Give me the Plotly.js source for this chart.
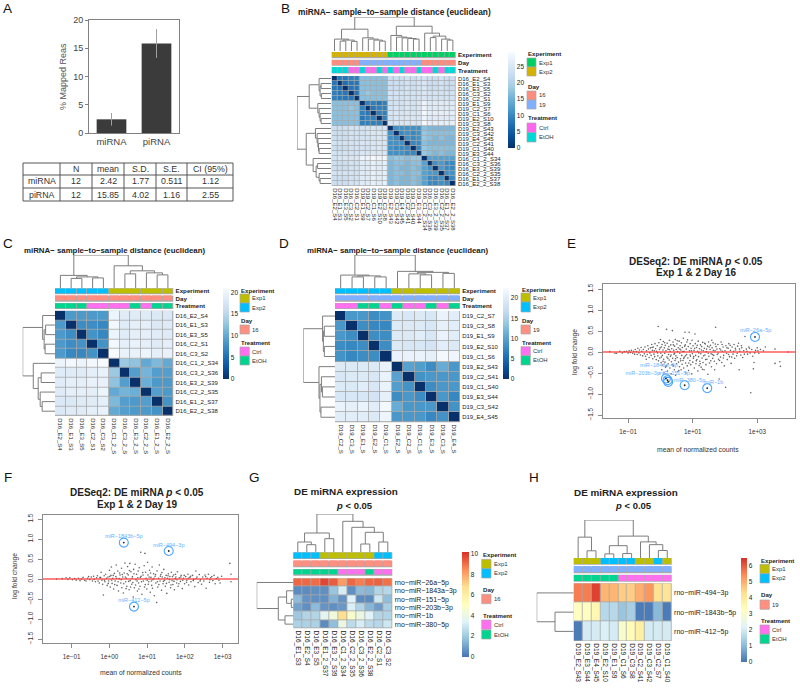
<!DOCTYPE html>
<html><head><meta charset="utf-8">
<script src="https://cdn.plot.ly/plotly-3.0.1.min.js"></script>
<style>html,body{margin:0;padding:0;background:#fff}#chart{width:800px;height:688px}</style>
</head><body><div id="chart"></div>
<script>
/* ---------- DATA ---------- */
const barCats=['miRNA','piRNA'];
const barVals=[2.42,15.85];
const barErr=[1.12,2.55];
const tableHead=['','N','mean','S.D.','S.E.','CI (95%)'];
const tableRow1=['miRNA','12','2.42','1.77','0.511','1.12'];
const tableRow2=['piRNA','12','15.85','4.02','1.16','2.55'];

const bNames=['D16_E2_S4','D16_E1_S3','D16_E3_S5','D16_C3_S2','D16_C2_S1','D19_E1_S9','D19_C2_S7','D19_C1_S6','D19_E2_S10','D19_C3_S8','D19_E2_S43','D19_C3_S42','D19_E4_S45','D19_C2_S41','D19_C1_S40','D19_E3_S44','D16_C1_2_S34','D16_C3_2_S36','D16_E3_2_S39','D16_C2_2_S35','D16_E1_2_S37','D16_E2_2_S38'];
const bUpper=[
[8,8,9,9,17,17,17,17,17,23,23,23,24,23,24,24,23,23,24,23,23],
[7,8,8,17,17,17,17,17,23,23,23,24,23,24,25,23,23,24,23,23],
[8,8,17,17,17,17,17,23,23,23,24,23,24,25,23,23,24,23,23],
[8,17,18,17,17,17,24,24,24,24,24,24,25,24,24,24,24,24],
[17,17,17,17,17,24,24,24,24,24,24,25,24,24,24,24,24],
[9,9,8,9,24,24,24,25,24,25,28,26,26,26,26,26],
[8,9,9,24,25,24,25,24,25,28,26,26,26,26,26],
[9,9,25,25,25,25,25,25,29,27,27,27,27,27],
[9,24,25,25,25,25,25,28,26,26,26,26,26],
[25,25,25,25,25,25,29,27,27,27,27,27],
[11,11,11,11,11,17,16,16,16,16,16],
[10,11,10,11,18,17,17,17,17,17],
[11,10,11,18,17,16,17,16,16],
[10,10,17,16,16,16,16,16],
[10,18,17,17,17,17,17],
[18,17,16,17,16,16],
[13,13,13,13,13],
[11,12,10,10],
[12,10,10],
[11,11],
[10]];
const bTree=[[3,4,9.7],[1,2,10],[-2,-1,11],[0,-3,12],[8,9,10],[7,-5,11],[6,-6,12],[5,-7,13.3],[-4,-8,22],[14,15,12],[13,-10,12.6],[12,-11,13.2],[11,-12,14],[10,-13,15.7],[20,21,11],[19,-15,12],[17,18,13.5],[-17,-16,15],[16,-18,18],[-14,-19,25],[-9,-20,34.3]];

const cNames=['D16_E2_S4','D16_E1_S3','D16_E3_S5','D16_C2_S1','D16_C3_S2','D16_C1_2_S34','D16_C3_2_S36','D16_E3_2_S39','D16_C2_2_S35','D16_E1_2_S37','D16_E2_2_S38'];
const cDist=[
[0,8.5,8.5,8.5,8.5,20,18.5,18.5,18.5,18,18],
[8.5,0,7.5,7.5,7,20.5,18.5,19,19,18,18.5],
[8.5,7.5,0,8,7,20,18.5,19,19,18.5,18.5],
[8.5,7.5,8,0,8,20.5,19,19.5,19,18.5,19],
[8.5,7,7,8,0,21,19.5,19.5,20,19,19.5],
[20,20.5,20,20.5,21,0,13,12.5,10,11.5,10],
[18.5,18.5,18.5,19,19.5,13,0,9,11,9,9],
[18.5,19,19,19.5,19.5,12.5,9,0,10.5,8.5,8.5],
[18.5,19,19,19,20,10,11,10.5,0,9,8.5],
[18,18,18.5,18.5,19,11.5,9,8.5,9,0,8],
[18,18.5,18.5,19,19.5,10,9,8.5,8.5,8,0]];
const cTree=[[1,2,9.5],[3,4,10],[-1,-2,11],[0,-3,12.5],[6,7,14],[9,10,13],[8,-6,15],[-5,-7,17],[5,-8,22],[-4,-9,32.7]];

const dNames=['D19_C2_S7','D19_C3_S8','D19_E1_S9','D19_E2_S10','D19_C1_S6','D19_E2_S43','D19_C2_S41','D19_C1_S40','D19_E3_S44','D19_C3_S42','D19_E4_S45'];
const dDist=[
[0,9,9,8,8.5,19.5,19,19.5,19,21,20],
[9,0,8,7.5,7.5,19.5,19.5,19.5,19,20.5,20],
[9,8,0,8,8,19.5,19.5,20,19,21,20],
[8,7.5,8,0,8,19.5,19,19,18.5,20,19.5],
[8.5,7.5,8,8,0,21,21,21,20.5,22,21.5],
[19.5,19.5,19.5,19.5,21,0,10,9.5,8,11,9],
[19,19.5,19.5,19,21,10,0,8.5,9,9,9],
[19.5,19.5,20,19,21,9.5,8.5,0,8,9,9],
[19,19,19,18.5,20.5,8,9,8,0,9,7.5],
[21,20.5,21,20,22,11,9,9,9,0,8.5],
[20,20,20,19.5,21.5,9,9,9,7.5,8.5,0]];
const dTree=[[1,2,11],[3,4,11],[-1,-2,12],[0,-3,12.8],[7,8,13],[6,-5,14],[9,10,14.5],[-6,-7,15.5],[5,-8,16.5],[-4,-9,32.7]];

const gCols=['D16_E1_S3','D16_E2_S4','D16_E3_S5','D16_E1_2_S37','D16_E3_2_S39','D16_C1_2_S34','D16_C2_2_S35','D16_C3_2_S36','D16_E2_2_S38','D16_C2_S1','D16_C3_S2'];
const gRows=['rno−miR−26a−5p','rno−miR−1843a−3p','rno−miR−151−5p','rno−miR−203b−3p','rno−miR−1b','rno−miR−380−5p'];
const gExpr=[
[9.2,9.2,9.1,9.8,9.4,8.2,9.2,8.8,9.2,9.3,9.0],
[0.5,0.5,0.6,0.6,1.9,3.2,0.6,1.6,1.5,2.4,2.5],
[1.6,0.7,0.6,0.6,1.4,0.7,3.4,0.5,0.5,3.0,1.7],
[1.0,0.6,1.6,0.7,0.6,0.8,3.3,2.4,1.5,0.9,2.2],
[2.0,2.4,2.4,3.6,4.2,6.8,4.7,4.0,3.4,2.4,2.4],
[2.3,2.3,2.3,0.5,1.7,4.0,2.6,3.2,2.6,2.5,3.0]];
const gTreeTop=[[1,2,7.3],[0,-1,10],[3,4,13.3],[-2,-3,19],[7,8,8],[9,10,10],[-5,-6,19.7],[6,-7,24.7],[5,-8,30.7],[-4,-9,38]];
const gTreeLeft=[[2,3,2],[1,-1,6.7],[4,5,8.3],[-2,-3,15],[0,-4,36.6]];

const hCols=['D19_E2_S43','D19_E3_S44','D19_E4_S45','D19_E2_S10','D19_E1_S9','D19_C1_S6','D19_C3_S8','D19_C2_S41','D19_C3_S42','D19_C2_S7','D19_C1_S40'];
const hRows=['rno−miR−494−3p','rno−miR−1843b−5p','rno−miR−412−5p'];
const hExpr=[
[5.6,5.6,6.3,4.9,4.9,4.6,4.6,5.0,5.3,4.3,4.2],
[3.2,3.2,3.5,1.6,1.6,1.2,1.4,0.1,0.1,1.0,0.1],
[0.1,2.0,2.0,2.1,2.0,3.0,3.4,3.8,2.0,2.0,2.0]];
const hTreeTop=[[1,2,7],[0,-1,20.3],[3,4,4],[5,6,4.3],[-3,-4,12],[9,10,7.3],[8,-6,13],[7,-7,15.7],[-5,-8,21.3],[-2,-9,37]];
const hTreeLeft=[[1,2,18.7],[0,-1,37]];

/* MA plots: [log10 mean count, log fold change] */
const e16Pts=[[-1.57,.01],[-1.41,-.03],[-1.36,-.03],[-1.26,.02],[-1.18,-.02],[-1.12,.01],[-1.05,.02],[-1.0,-.02],[-.97,.03],[-.93,-.01],[-.9,.04],[-.86,-.03],[-.83,.02],[-.8,-.05],[-.78,.06],[-.74,.01],[-.72,-.06],[-.7,.09],[-.67,-.02],[-.65,.05],[-.62,-.07],[-.6,.11],[-.58,.02],[-.55,-.09],[-.53,.06],[-.5,-.04],[-.48,.12],[-.46,-.1],[-.43,.03],[-.41,-.06],[-.39,.15],[-.37,.07],[-.35,-.13],[-.33,-.02],[-.31,.1],[-.29,-.08],[-.27,.18],[-.25,.04],[-.24,-.16],[-.22,.12],[-.2,-.05],[-.18,-.11],[-.17,.2],[-.15,.08],[-.13,-.18],[-.12,.02],[-.1,.15],[-.08,-.09],[-.07,.61],[-.06,-.21],[-.05,.22],[-.03,.06],[-.02,-.14],[0,.3],[.01,-.03],[.02,-.25],[.03,.12],[.04,-.42],[.05,.18],[.06,-.08],[.07,-.31],[.08,.05],[.09,.25],[.1,-.17],[.11,-.5],[.12,.1],[.13,-.03],[.14,-.24],[.15,.16],[.16,-.36],[.17,.03],[.19,.54],[.2,-.12],[.21,.21],[.22,-.45],[.23,.07],[.24,-.28],[.25,-.06],[.26,.13],[.27,-.19],[.28,.28],[.29,-.38],[.3,.02],[.31,-.1],[.32,.17],[.33,-.52],[.34,-.23],[.35,.08],[.37,.51],[.38,-.15],[.39,.24],[.4,-.33],[.41,.04],[.42,-.05],[.43,-.42],[.44,.14],[.45,-.2],[.46,.3],[.47,-.55],[.48,-.09],[.49,.06],[.5,-.28],[.51,.19],[.52,-.13],[.53,.01],[.54,-.47],[.55,.1],[.56,-.24],[.58,.26],[.59,-.35],[.6,-.03],[.61,.15],[.62,-.16],[.63,.05],[.64,-.42],[.65,.22],[.66,-.08],[.67,-.29],[.68,.11],[.7,-.2],[.71,.33],[.72,-.38],[.73,.02],[.74,-.12],[.76,.47],[.77,.17],[.78,-.26],[.79,-.5],[.8,.07],[.81,-.06],[.82,.24],[.83,-.33],[.85,-.14],[.86,.13],[.87,-.44],[.89,.47],[.9,.03],[.91,-.2],[.92,.2],[.93,-.1],[.94,-.3],[.95,.09],[.97,-.52],[.98,.28],[.99,-.04],[1.0,-.24],[1.01,.15],[1.02,-.15],[1.04,.04],[1.05,-.38],[1.07,.43],[1.08,.2],[1.09,-.08],[1.1,-.28],[1.12,.11],[1.13,-.18],[1.15,.02],[1.16,-.45],[1.17,.26],[1.18,-.11],[1.2,-.32],[1.21,.08],[1.22,-.22],[1.24,.17],[1.25,-.04],[1.26,-.36],[1.28,.13],[1.29,-.14],[1.31,.23],[1.32,-.25],[1.33,.03],[1.35,-.42],[1.36,.09],[1.38,-.07],[1.39,.19],[1.41,-.3],[1.42,.01],[1.44,-.17],[1.46,.14],[1.47,-.53],[1.49,.24],[1.5,-.1],[1.52,-.26],[1.54,.06],[1.55,.16],[1.57,-.04],[1.58,-.35],[1.6,.1],[1.62,-.15],[1.63,.22],[1.65,-.08],[1.67,-.22],[1.69,.03],[1.71,.59],[1.72,.13],[1.74,-.28],[1.76,-.06],[1.78,.18],[1.8,-.17],[1.82,-.64],[1.84,.08],[1.86,-.12],[1.88,.24],[1.9,-.25],[1.92,.02],[1.94,.12],[1.96,-.08],[1.98,-.33],[2.02,-.84],[2.03,.15],[2.05,-.03],[2.07,-.18],[2.1,.09],[2.12,.2],[2.14,-.11],[2.17,.04],[2.19,-.27],[2.22,.12],[2.25,-.05],[2.28,.18],[2.3,-.15],[2.33,.05],[2.36,-.09],[2.39,.14],[2.42,.21],[2.44,-.42],[2.46,.02],[2.49,-.07],[2.52,.1],[2.55,-.13],[2.58,.03],[2.62,.37],[2.66,.07],[2.7,-.05],[2.74,.12],[2.78,-.02],[2.8,-.97],[2.83,.06],[2.86,-.1],[2.88,-.4],[2.9,-.25],[2.95,.04],[3.0,.1],[3.05,-.03],[3.1,.06],[3.19,.03],[3.25,.12],[3.55,.07],[3.55,-.27],[3.7,-.23],[3.72,-.34],[3.95,0],
[-.44,-.17],[-.26,.11],[-.19,.03],[-.09,-.02],[-.01,.1],[.03,-.12],[.08,-.22],[.13,.22],[.18,-.33],[.23,-.15],[.27,.06],[.33,-.07],[.36,-.3],[.4,.17],[.44,-.03],[.47,-.16],[.52,.27],[.57,-.44],[.6,.07],[.63,-.21],[.69,.01],[.72,-.15],[.75,.14],[.78,-.09],[.84,.29],[.88,-.26],[.92,-.07],[.96,.03],[1.03,-.11],[1.06,.09],[1.11,-.21],[1.14,.16],[1.19,-.02],[1.23,-.28],[1.27,.05],[1.3,-.41],[1.34,-.09],[1.37,.21],[1.4,-.18],[1.43,.07],[1.48,-.03],[1.51,.12],[1.56,-.21],[1.59,.28],[1.61,-.06],[1.64,.04],[1.68,-.42],[1.7,.19],[1.75,.07],[1.79,-.03],[1.83,-.2],[1.87,.05],[1.91,.18],[1.95,-.14],[2.0,.03],[2.06,.1],[2.11,-.06],[2.16,.16],[2.21,-.12],[2.27,.02],[2.32,.09],[2.38,-.03],[2.45,.07],[2.51,.15],[2.6,-.05],[2.68,.02],[2.76,.09],[2.92,-.02],[3.02,.03]];
const e16HiX=[2.93,1.45,.75,.17,.24,.22];
const e16HiY=[.36,-.86,-.79,-.63,-.71,-.67];
const e16LabX=[2.95,1.65,.9,-.05,.42,-.55];
const e16LabY=[.5,-.73,-.69,-.33,-.52,-.52];
const e16HiNames=['miR−26a−5p','miR−1b','miR−380−5p','miR−1843a−3p','miR−151−5p','miR−203b−3p'];

const f19Pts=[[-1.4,.0],[-1.25,.01],[-1.15,.03],[-1.1,-.01],[-1.05,.03],[-.98,-.02],[-.92,.01],[-.88,-.03],[-.82,.02],[-.78,-.04],[-.74,.0],[-.7,.04],[-.66,-.03],[-.62,-.05],[-.58,.02],[-.55,.06],[-.52,-.02],[-.48,.05],[-.45,-.05],[-.42,.07],[-.4,-.01],[-.37,-.07],[-.34,.03],[-.32,.08],[-.3,-.05],[-.27,-.1],[-.25,.04],[-.22,.17],[-.2,-.03],[-.18,-.13],[-.16,-.4],[-.14,.08],[-.12,-.07],[-.1,.12],[-.08,.02],[-.06,-.16],[-.04,.05],[-.02,-.05],[0,.22],[.02,-.2],[.04,.09],[.05,.3],[.07,-.11],[.09,.02],[.11,-.25],[.13,.14],[.15,-.05],[.17,.06],[.18,.35],[.2,-.16],[.22,.2],[.24,-.3],[.26,.01],[.28,.1],[.3,-.1],[.32,.27],[.33,-.22],[.35,.05],[.37,-.35],[.39,.15],[.41,.4],[.43,-.07],[.45,.02],[.46,-.18],[.48,.31],[.5,.1],[.52,-.27],[.54,.39],[.55,-.04],[.57,.18],[.59,-.13],[.61,.06],[.63,-.45],[.64,.24],[.66,-.22],[.68,.37],[.7,-.02],[.72,.12],[.74,-.3],[.75,.03],[.77,-.1],[.79,.28],[.81,-.18],[.83,.67],[.84,.07],[.86,-.38],[.88,.16],[.9,-.05],[.92,.33],[.94,.64],[.95,-.14],[.97,.02],[.99,-.25],[1.01,.42],[1.02,.1],[1.04,-.07],[1.06,.22],[1.08,-.33],[1.1,.04],[1.12,-.16],[1.13,.3],[1.15,-.02],[1.17,.13],[1.19,-.42],[1.21,.07],[1.23,-.1],[1.25,-.59],[1.26,.2],[1.28,-.2],[1.3,.02],[1.32,.35],[1.34,-.05],[1.36,.11],[1.38,-.28],[1.4,.05],[1.42,-.12],[1.44,.24],[1.46,-.03],[1.48,-.18],[1.5,.09],[1.52,-.36],[1.54,.02],[1.56,.13],[1.58,-.08],[1.6,.06],[1.62,-.22],[1.64,.17],[1.66,-.04],[1.68,-.14],[1.7,.1],[1.72,-.27],[1.74,.01],[1.76,.05],[1.78,-.1],[1.8,.18],[1.82,-.18],[1.85,.03],[1.88,-.06],[1.9,.09],[1.93,-.24],[1.96,.02],[1.99,-.12],[2.02,.06],[2.05,-.03],[2.08,.12],[2.1,-.15],[2.13,.04],[2.16,-.07],[2.2,.09],[2.23,-.01],[2.26,-.19],[2.29,.2],[2.32,.05],[2.35,-.09],[2.38,.11],[2.41,-.02],[2.44,-.13],[2.47,.05],[2.5,-.05],[2.53,.1],[2.56,-.23],[2.59,.02],[2.62,.12],[2.65,-.08],[2.68,.03],[2.71,.06],[2.74,-.04],[2.77,.09],[2.8,-.12],[2.83,.01],[2.87,.04],[2.9,-.03],[2.93,-.1],[2.97,.07],[3.19,.39],[3.22,.12],[3.22,-.07],
[-.23,.03],[-.13,-.03],[-.03,-.11],[.01,.06],[.06,-.03],[.1,.09],[.14,-.14],[.19,.02],[.23,-.07],[.27,.15],[.31,-.02],[.34,.11],[.38,-.12],[.42,.05],[.44,-.24],[.47,.13],[.51,-.06],[.53,.21],[.56,-.2],[.6,.02],[.62,-.09],[.65,.13],[.69,-.15],[.73,-.05],[.76,.2],[.78,-.25],[.82,.04],[.85,-.07],[.89,.1],[.93,-.2],[.96,.17],[1.0,-.03],[1.03,-.13],[1.05,.05],[1.09,.15],[1.11,-.05],[1.14,-.23],[1.18,.02],[1.22,.11],[1.27,-.07],[1.31,-.14],[1.35,.07],[1.39,.16],[1.43,-.06],[1.47,.03],[1.51,-.11],[1.55,.08],[1.59,-.02],[1.63,-.15],[1.67,.06],[1.71,-.06],[1.75,.12],[1.79,-.02],[1.84,-.12],[1.89,.05],[1.94,-.03],[1.98,.09],[2.04,-.08],[2.09,.02],[2.15,.07],[2.22,-.04],[2.3,.02],[2.4,-.05],[2.55,.06],[2.66,-.02]];
const f19HiX=[.38,1.57,.65];
const f19HiY=[.91,.70,-.69];
const f19LabX=[.38,1.57,.65];
const f19LabY=[1.05,.84,-.55];
const f19HiNames=['miR−1843b−5p','miR−494−3p','miR−412−5p'];

/* ---------- HELPERS ---------- */
const W=800,H=688,FONT='"Liberation Sans", Arial, sans-serif',TXT='#222';
const traces=[],shapes=[],annotations=[];
const layout={width:W,height:H,margin:{l:0,r:0,t:0,b:0},paper_bgcolor:'#fff',plot_bgcolor:'rgba(0,0,0,0)',
  showlegend:false,font:{family:FONT,color:TXT,size:7},shapes,annotations};
let nAxis=0;
const hidden={visible:false,showgrid:false,zeroline:false,fixedrange:true};
function pair(x0,x1,y0,y1,xo,yo){
  nAxis++;const s=nAxis===1?'':String(nAxis);
  layout['xaxis'+s]=Object.assign({},hidden,xo,{domain:[x0/W,x1/W],anchor:'y'+s});
  layout['yaxis'+s]=Object.assign({},hidden,yo,{domain:[1-y1/H,1-y0/H],anchor:'x'+s});
  return {xaxis:'x'+s,yaxis:'y'+s};
}
function txt(x,y,t,o){annotations.push(Object.assign({x:x/W,y:1-y/H,xref:'paper',yref:'paper',text:t,showarrow:false,xanchor:'left',yanchor:'middle',
  font:{size:7,color:TXT,family:FONT},borderpad:0},o||{}));}
function rect(x0,x1,y0,y1,fill,lineCol,layer,lw){shapes.push({type:'rect',xref:'paper',yref:'paper',x0:x0/W,x1:x1/W,y0:1-y0/H,y1:1-y1/H,
  fillcolor:fill,line:{color:lineCol||fill,width:lineCol?(lw||0.7):0},layer:layer||'above'});}
/* hclust-style merges -> U shaped polylines */
function dendro(tree,nLeaves,vertical){
  const pos=[],h=[],X=[],Y=[];
  tree.forEach((m,i)=>{
    const p=a=>a>=0?a:pos[-a-1], v=a=>a>=0?0:h[-a-1];
    const a=p(m[0]),b=p(m[1]);
    const xs=[a,a,b,b],ys=[v(m[0]),m[2],m[2],v(m[1])];
    (vertical?xs:ys).forEach(q=>(X.push(q)));
    (vertical?ys:xs).forEach(q=>(Y.push(q)));
    X.push(null);Y.push(null);
    pos[i]=(a+b)/2;h[i]=m[2];
  });
  return {X,Y,top:tree[tree.length-1][2]};
}
const sym=(names,u)=>names.map((_,i)=>names.map((_,j)=>i===j?0:(i<j?u[i][j-i-1]:u[j][i-j-1])));
const BLUES=[[0,'#08306B'],[.125,'#08519C'],[.25,'#2171B5'],[.375,'#4292C6'],[.5,'#6BAED6'],[.625,'#9ECAE1'],[.75,'#C6DBEF'],[.875,'#DEEBF7'],[1,'#F7FBFF']];
const RDYLBU=[[0,'#4575B4'],[1/6,'#91BFDB'],[2/6,'#E0F3F8'],[.5,'#FFFFBF'],[4/6,'#FEE090'],[5/6,'#FC8D59'],[1,'#D73027']];
const GRID='#a8a8a8';
const expOf=n=>+n.match(/_S(\d+)/)[1]>=34?0:1;
const dayOf=n=>n.startsWith('D16')?2:3;
const trtOf=n=>n.split('_')[1][0]==='C'?4:5;

function heatPanel(p){
  const nc=p.cols.length,nr=p.rows.length,g=p.geo;
  /* grey cell borders underneath */
  rect(g.hx0,g.hx1,g.hy0,g.hy1,GRID,null,'below');
  const a=pair(g.hx0,g.hx1,g.hy0,g.hy1,
    {visible:true,showline:false,range:[-.5,nc-.5],tickmode:'array',tickvals:p.cols.map((_,i)=>i),ticktext:p.colText||p.cols,tickangle:90,ticklen:0,
     tickfont:{size:p.fs,color:TXT}},
    {visible:true,showline:false,side:'right',range:[nr-.5,-.5],tickmode:'array',tickvals:p.rows.map((_,i)=>i),ticktext:p.rows,ticklen:0,
     tickfont:{size:p.rfs||p.fs,color:TXT}});
  traces.push(Object.assign({type:'heatmap',z:p.z,x:p.cols.map((_,i)=>i),y:p.rows.map((_,i)=>i),zmin:p.zmin,zmax:p.zmax,colorscale:p.scale,
    xgap:p.gap,ygap:p.gap,hoverinfo:'skip',showscale:true,
    colorbar:{x:g.cx0/W,xanchor:'left',y:1-g.cy1/H,yanchor:'bottom',len:g.cy1-g.cy0,lenmode:'pixels',thickness:g.cx1-g.cx0,thicknessmode:'pixels',
      xpad:0,ypad:0,outlinewidth:0,tickmode:'array',tickvals:p.cticks,ticks:'',tickfont:{size:p.cfs||6.5,color:TXT}}},a));
  /* annotation rows */
  const cs=p.annColors.reduce((acc,c,i)=>{acc.push([i/6,c],[(i+1)/6,c]);return acc;},[]);
  const annZ=[p.cols.map(expOf),p.cols.map(()=>null),p.cols.map(dayOf),p.cols.map(()=>null),p.cols.map(trtOf)];
  const rowH=(g.ay1-g.ay0-2*g.agap)/3;
  const yEdges=[0,rowH,rowH+g.agap,2*rowH+g.agap,2*rowH+2*g.agap,3*rowH+2*g.agap];
  [0,1,2].forEach(i=>rect(g.hx0,g.hx1,g.ay0+i*(rowH+g.agap),g.ay0+i*(rowH+g.agap)+rowH,GRID,null,'below'));
  const annAxis=p.annLabels?{visible:true,showline:false,side:'right',range:[yEdges[5],0],tickmode:'array',tickvals:[rowH/2,rowH*1.5+g.agap,rowH*2.5+2*g.agap],
     ticktext:['<b>Experiment</b>','<b>Day</b>','<b>Treatment</b>'],ticklen:0,tickfont:{size:p.afs||6.2,color:TXT}}:{range:[yEdges[5],0]};
  const b=pair(g.hx0,g.hx1,g.ay0,g.ay1,{range:[-.5,nc-.5]},annAxis);
  traces.push(Object.assign({type:'heatmap',z:annZ,x:p.cols.map((_,i)=>i),y:yEdges,zmin:-.5,zmax:5.5,colorscale:cs,xgap:p.gap,ygap:1,showscale:false,hoverinfo:'skip'},b));
  /* dendrograms */
  const t=dendro(p.treeTop,nc,true);
  const c=pair(g.hx0,g.hx1,g.ty0,g.ty1,{range:[-.5,nc-.5]},{range:[0,t.top]});
  traces.push(Object.assign({type:'scatter',mode:'lines',x:t.X,y:t.Y,line:{color:'#7d7d7d',width:1},hoverinfo:'skip',cliponaxis:false},c));
  const l=dendro(p.treeLeft,nr,false);
  const d=pair(g.lx0,g.lx1,g.hy0,g.hy1,{range:[l.top,0]},{range:[nr-.5,-.5]});
  traces.push(Object.assign({type:'scatter',mode:'lines',x:l.X,y:l.Y,line:{color:'#7d7d7d',width:1},hoverinfo:'skip',cliponaxis:false},d));
  /* legend */
  const L=p.legend,sw=L.w;
  L.items.forEach(it=>{
    txt(L.x,it.ty,'<b>'+it.title+'</b>',{font:{size:p.lfs||6.1,color:TXT,family:FONT}});
    it.e.forEach(e=>{rect(L.x,L.x+sw,e[1],e[2],p.annColors[e[0]],GRID);
      txt(L.x+sw+2,(e[1]+e[2])/2,e[3],{font:{size:p.lfs||6,color:'#333',family:FONT}});});
  });
}

/* ---------- PANEL A ---------- */
(function(){
  const a=pair(89,179,20,133,
    {visible:true,type:'category',range:[-.5,1.5],showline:true,mirror:true,linecolor:'#808080',linewidth:1,ticks:'outside',ticklen:0,tickfont:{size:9.5,color:'#444'}},
    {visible:true,range:[0,20],showline:true,mirror:true,linecolor:'#808080',linewidth:1,ticks:'outside',ticklen:3,tickcolor:'#808080',tickvals:[0,5,10,15,20],tickfont:{size:9,color:'#444'}});
  traces.push(Object.assign({type:'bar',x:barCats,y:barVals,width:.66,marker:{color:'#3b3b3b'},hoverinfo:'skip',
    error_y:{type:'data',array:barErr,visible:true,color:'#a0a0a0',thickness:1,width:0}},a));
  txt(63,77,'% Mapped Reas',{textangle:-90,xanchor:'center',font:{size:9,color:'#555',family:FONT}});
  const xs=[23,60,92,124,156,187,233],ys=[163,175,188,201];
  xs.forEach(x=>shapes.push({type:'line',xref:'paper',yref:'paper',x0:x/W,x1:x/W,y0:1-163/H,y1:1-201/H,line:{color:'#555',width:1}}));
  ys.forEach(y=>shapes.push({type:'line',xref:'paper',yref:'paper',x0:23/W,x1:233/W,y0:1-y/H,y1:1-y/H,line:{color:'#555',width:1}}));
  [tableHead,tableRow1,tableRow2].forEach((row,r)=>row.forEach((c,i)=>{if(c)txt((xs[i]+xs[i+1])/2,(ys[r]+ys[r+1])/2,c,{xanchor:'center',font:{size:8.8,color:'#333',family:FONT}});}));
})();

/* ---------- HEATMAPS ---------- */
const legColorsB=['#00CF63','#D4B200','#FF8C7F','#80B0FF','#FF66F0','#00D8D8'];
const legColorsO=['#BEBE00','#00BFFF','#FF8F80','#80B0FF','#FF70F0','#00D58F'];
heatPanel({cols:bNames,rows:bNames,z:sym(bNames,bUpper),zmin:0,zmax:29.5,scale:BLUES,gap:.7,fs:6,annLabels:true,treeTop:bTree,treeLeft:bTree,annColors:legColorsB,cticks:[0,5,10,15,20,25],
  geo:{hx0:331.7,hx1:455.7,hy0:76,hy1:186,ay0:52,ay1:73.5,agap:1.4,ty0:17,ty1:51,lx0:297,lx1:331,cx0:508,cx1:515,cy0:52,cy1:148},
  legend:{x:527,w:9,items:[{title:'Experiment',ty:53,e:[[0,58,67,'Exp1'],[1,67,76,'Exp2']]},{title:'Day',ty:86,e:[[2,91,100,'16'],[3,100,109,'19']]},{title:'Treatment',ty:118,e:[[4,123,132.5,'Ctrl'],[5,132.5,142,'EtOH']]}]}});
heatPanel({cols:cNames,rows:cNames,colText:cNames.map(s=>s.slice(0,10)),z:cDist,zmin:0,zmax:21,scale:BLUES,gap:.8,fs:6,annLabels:true,treeTop:cTree,treeLeft:cTree,annColors:legColorsO,cticks:[0,5,10,15,20],
  geo:{hx0:55,hx1:173.3,hy0:310.7,hy1:416,ay0:288.3,ay1:309,agap:1.4,ty0:255,ty1:288,lx0:22.7,lx1:55,cx0:222.7,cx1:229,cy0:288.3,cy1:379},
  legend:{x:240,w:9.3,items:[{title:'Experiment',ty:290,e:[[0,294,303,'Exp1'],[1,303,312,'Exp2']]},{title:'Day',ty:320.7,e:[[2,325,334,'16']]},{title:'Treatment',ty:342.3,e:[[4,347,356,'Ctrl'],[5,356,365,'EtOH']]}]}});
heatPanel({cols:dNames,rows:dNames,colText:dNames.map(s=>s.slice(0,8)),z:dDist,zmin:0,zmax:22.5,scale:BLUES,gap:.8,fs:6,annLabels:true,treeTop:dTree,treeLeft:dTree,annColors:legColorsO,cticks:[0,5,10,15,20],
  geo:{hx0:335,hx1:460,hy0:311,hy1:422.3,ay0:288.3,ay1:309,agap:1.4,ty0:255,ty1:288,lx0:303.3,lx1:335,cx0:503.3,cx1:509.3,cy0:288,cy1:379},
  legend:{x:521,w:9.3,items:[{title:'Experiment',ty:289,e:[[0,293,302,'Exp1'],[1,302,312,'Exp2']]},{title:'Day',ty:320.7,e:[[2,325,334,'19']]},{title:'Treatment',ty:342,e:[[4,346.7,355.7,'Ctrl'],[5,355.7,365,'EtOH']]}]}});
heatPanel({cols:gCols,rows:gRows,z:gExpr,zmin:0,zmax:10.2,scale:RDYLBU,gap:.8,fs:6.5,rfs:7,treeTop:gTreeTop,treeLeft:gTreeLeft,annColors:legColorsO,cticks:[0,2,4,6,8,10],
  geo:{hx0:293.3,hx1:392.3,hy0:578.3,hy1:628.3,ay0:552.3,ay1:575.7,agap:1.6,ty0:514,ty1:552,lx0:256.7,lx1:293.3,cx0:461.7,cx1:468.3,cy0:551.7,cy1:656.7},
  legend:{x:481.7,w:9.3,items:[{title:'Experiment',ty:554.3,e:[[0,559.3,568.7,'Exp1'],[1,568.7,578,'Exp2']]},{title:'Day',ty:589.3,e:[[2,594.3,603.7,'16']]},{title:'Treatment',ty:615,e:[[4,620,629.3,'Ctrl'],[5,630,639,'EtOH']]}]}});
heatPanel({cols:hCols,rows:hRows,z:hExpr,zmin:0,zmax:6.5,scale:RDYLBU,gap:.8,fs:6.5,rfs:7,treeTop:hTreeTop,treeLeft:hTreeLeft,annColors:legColorsO,cticks:[0,1,2,3,4,5,6],
  geo:{hx0:573.7,hx1:671.7,hy0:583.3,hy1:641,ay0:558,ay1:581.7,agap:1.6,ty0:520,ty1:558,lx0:536.7,lx1:573.7,cx0:740.7,cx1:746.7,cy0:557.3,cy1:661.7},
  legend:{x:760,w:9.3,items:[{title:'Experiment',ty:560,e:[[0,564.3,573.7,'Exp1'],[1,573.7,583,'Exp2']]},{title:'Day',ty:594.3,e:[[2,600,609.3,'19']]},{title:'Treatment',ty:620,e:[[4,625,634.3,'Ctrl'],[5,634.3,643.7,'EtOH']]}]}});

const dist='<b>miRNA− sample−to−sample distance (euclidean)</b>';
txt(297,12,dist,{font:{size:8.35,color:TXT,family:FONT}});
txt(23,250.5,dist,{font:{size:7.85,color:TXT,family:FONT}});
txt(306,250.5,dist,{font:{size:7.85,color:TXT,family:FONT}});
const deT='<b>DE miRNA expression</b>',deP='<b><i>p</i> &lt; 0.05</b>';
txt(293,491,deT,{font:{size:9.9,color:TXT,family:FONT}});
txt(354,505,deP,{xanchor:'center',font:{size:9.5,color:TXT,family:FONT}});
txt(572.7,492,deT,{font:{size:9.9,color:TXT,family:FONT}});
txt(633,505.7,deP,{xanchor:'center',font:{size:9.5,color:TXT,family:FONT}});

/* ---------- MA PLOTS ---------- */
function maPanel(pts,hx,hy,lx,ly,hn,geo,xr,yr,xt,xl,title1,title2,tx,ty,yLab,xLab){
  const ax={visible:true,showline:true,mirror:true,linecolor:'#8a8a8a',linewidth:1,ticks:'outside',ticklen:4,tickcolor:'#8a8a8a',tickfont:{size:6.3,color:'#333'}};
  const a=pair(geo[0],geo[1],geo[2],geo[3],Object.assign({},ax,{range:xr,tickmode:'array',tickvals:xt,ticktext:xl,ticklabelstandoff:3}),
    Object.assign({},ax,{range:yr,tickmode:'array',tickvals:[-1.5,-1,-.5,0,.5,1,1.5],ticktext:['−1.5','−1.0','−0.5','0.0','0.5','1.0','1.5'],tickangle:-90,ticklabelstandoff:2}));
  traces.push(Object.assign({type:'scatter',mode:'markers',x:pts.map(p=>p[0]),y:pts.map(p=>p[1]),marker:{size:1.6,color:'#222',opacity:.7},hoverinfo:'skip'},a));
  traces.push(Object.assign({type:'scatter',mode:'lines',x:xr,y:[0,0],line:{color:'rgba(255,50,50,.6)',width:2},hoverinfo:'skip'},a));
  traces.push(Object.assign({type:'scatter',mode:'markers',x:hx,y:hy,marker:{size:9,color:'rgba(0,0,0,0)',line:{color:'#4aa5ff',width:1.1}},hoverinfo:'skip'},a));
  traces.push(Object.assign({type:'scatter',mode:'markers',x:hx,y:hy,marker:{size:1.8,color:'#222'},hoverinfo:'skip'},a));
  traces.push(Object.assign({type:'scatter',mode:'text',x:lx,y:ly,text:hn,textposition:'middle center',textfont:{size:5.5,color:'#66b2ff'},hoverinfo:'skip',cliponaxis:false},a));
  txt(tx,ty,'<b>'+title1+'</b>',{xanchor:'center',font:{size:10,color:TXT,family:FONT}});
  txt(tx,ty+12,'<b>'+title2+'</b>',{xanchor:'center',font:{size:10,color:TXT,family:FONT}});
  txt(yLab[0],yLab[1],'log fold change',{xanchor:'center',textangle:-90,font:{size:6.8,color:'#333',family:FONT}});
  txt(xLab[0],xLab[1],'mean of normalized counts',{xanchor:'center',font:{size:6.8,color:'#333',family:FONT}});
}
maPanel(e16Pts,e16HiX,e16HiY,e16LabX,e16LabY,e16HiNames,[602.7,795,284,418],[-1.79,4.17],[-1.57,1.62],[-1,1,3],['1e−01','1e+01','1e+03'],
  'DESeq2: DE miRNA <i>p</i> &lt; 0.05','Exp 1 &amp; 2 Day 16',696,261,[575,352],[698,449]);
maPanel(f19Pts,f19HiX,f19HiY,f19LabX,f19LabY,f19HiNames,[43,238,515,643],[-1.76,3.405],[-1.6,1.6],[-1,0,1,2,3],['1e−01','1e+00','1e+01','1e+02','1e+03'],
  'DESeq2: DE miRNA <i>p</i> &lt; 0.05','Exp 1 &amp; 2 Day 19',137,492,[15,576],[141,672]);

/* panel letters */
[['A',2,8],['B',280,8],['C',2,243],['D',278,243],['E',566,243],['F',3,477],['G',248,477],['H',528,477]].forEach(l=>
  txt(l[1],l[2],l[0],{font:{size:13.5,color:'#111',family:FONT}}));

Plotly.newPlot('chart',traces,layout,{staticPlot:true,displayModeBar:false,responsive:false});
</script></body></html>
